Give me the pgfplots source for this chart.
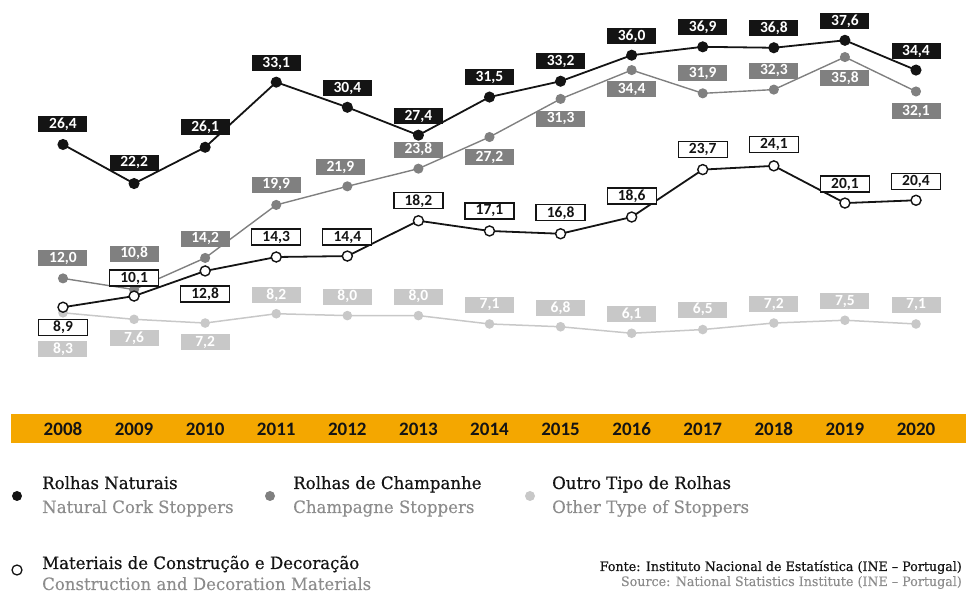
\documentclass[border=0pt]{standalone}
\usepackage{pgfplots}
\pgfplotsset{compat=1.18}
\usepackage{pgfplotstable}
\usepackage{fontspec}
\setmainfont{Carlito}
\newfontfamily\legfont[FakeStretch=0.975,FakeBold=0.15]{DejaVu Serif}
\newfontfamily\legfontb[FakeStretch=0.975,FakeBold=0.6]{DejaVu Serif}

\definecolor{ink}{HTML}{141414}
\definecolor{champ}{HTML}{808080}
\definecolor{outro}{HTML}{C8C8C8}
\definecolor{band}{HTML}{F4A700}
\definecolor{subgray}{HTML}{8C8C8C}

% year, value, label offset (px above the point), label x offset
\pgfplotstableread{
year val off xoff
2008 26.4 20 0
2009 22.2 21 0
2010 26.1 20 0
2011 33.1 19 0
2012 30.4 19 0
2013 27.4 19 0
2014 31.5 20 0
2015 33.2 20 0
2016 36.0 19 0
2017 36.9 20 0
2018 36.8 20 0
2019 37.6 19 0
2020 34.4 19 0
}\naturais

\pgfplotstableread{
year val off xoff
2008 12.0 20 0
2009 10.8 36 0
2010 14.2 19 0
2011 19.9 20 0
2012 21.9 19 -7
2013 23.8 19 0
2014 27.2 -20 0
2015 31.3 -20 0
2016 34.4 -19 0
2017 31.9 20 0
2018 32.3 19 0
2019 35.8 -21 0
2020 32.1 -20 0
}\champanhe

\pgfplotstableread{
year val off xoff
2008 8.9 -20 0
2009 10.1 18 0
2010 12.8 -23 0
2011 14.3 20 0
2012 14.4 19 0
2013 18.2 20 0
2014 17.1 20 0
2015 16.8 21 0
2016 18.6 21 0
2017 23.7 20 0
2018 24.1 21 0
2019 20.1 19 0
2020 20.4 19 0
}\materiais

\pgfplotstableread{
year val off xoff
2008 8.3 -36 0
2009 7.6 -19 0
2010 7.2 -19 0
2011 8.2 19 0
2012 8.0 19 0
2013 8.0 19 0
2014 7.1 19 0
2015 6.8 19 0
2016 6.1 19 0
2017 6.5 20 0
2018 7.2 19 0
2019 7.5 19 0
2020 7.1 19 0
}\outro

\pgfplotsset{
  lbl/.style={
    point meta=y,
    visualization depends on={\thisrow{off} \as \lboff},
    visualization depends on={\thisrow{xoff} \as \lbxoff},
    nodes near coords={\pgfmathprintnumber[fixed,fixed zerofill,precision=1,use comma,assume math mode=true]{\pgfplotspointmeta}},
    nodes near coords style={anchor=center, inner sep=0pt,
      minimum width=49pt, minimum height=16pt,
      yshift=\lboff pt, xshift=\lbxoff pt,
      font=\fontsize{15.5}{15.5}\selectfont\bfseries, #1}
  }
}

\begin{document}
\begin{tikzpicture}
\begin{scope}[shift={(-63pt,390pt)},x=1pt,y=-1pt]
  \path (0,0) rectangle (966,593);
  \fill[band] (11,414) rectangle (966,443);
\end{scope}

\begin{axis}[name=ax, at={(0,0)}, anchor=south west,
  scale only axis, width=853pt, height=372pt,
  xmin=2008, xmax=2020, ymin=0, ymax=40, clip=false,
  axis x line*=bottom, axis y line*=left, axis line style={draw=none},
  ytick=\empty, xtick={2008,2009,2010,2011,2012,2013,2014,2015,2016,2017,2018,2019,2020},
  xticklabels={2008,2009,2010,2011,2012,2013,2014,2015,2016,2017,2018,2019,2020},
  major tick length=0pt,
  xticklabel style={anchor=center, yshift=-39pt, text=ink,
    font=\fontsize{19}{19}\selectfont\bfseries}]

\addplot[outro, line width=1.5pt, mark=*, mark size=4pt,
  lbl={fill=outro, text=white}] table[x=year,y=val] {\outro};
\addplot[champ, line width=1.4pt, mark=*, mark size=4.3pt,
  lbl={fill=champ, text=white}] table[x=year,y=val] {\champanhe};
\addplot[ink, line width=1.8pt, mark=*, mark size=4.6pt,
  lbl={fill=ink, text=white}] table[x=year,y=val] {\naturais};
\addplot[ink, line width=1.8pt, mark=*, mark size=5pt,
  mark options={fill=white, draw=ink, line width=1.4pt},
  lbl={fill=white, draw=ink, line width=1.2pt, text=ink}] table[x=year,y=val] {\materiais};
\end{axis}

\begin{scope}[shift={(-63pt,390pt)},x=1pt,y=-1pt,
  tt/.style={anchor=base west, inner sep=0pt, text=ink, font=\legfontb\fontsize{17}{17}\selectfont},
  st/.style={anchor=base west, inner sep=0pt, text=subgray, font=\legfont\fontsize{17}{17}\selectfont}]
  \fill[ink] (17,496) circle (5pt);
  \node[tt] at (42,489) {Rolhas Naturais};
  \node[st] at (42,513) {Natural Cork Stoppers};
  \fill[champ] (270,496) circle (5pt);
  \node[tt] at (293,489) {Rolhas de Champanhe};
  \node[st] at (293,513) {Champagne Stoppers};
  \fill[outro] (530,496) circle (5pt);
  \node[tt] at (552,489) {Outro Tipo de Rolhas};
  \node[st] at (552,513) {Other Type of Stoppers};
  \draw[ink, fill=white, line width=1.3pt] (17,570) circle (5pt);
  \node[tt] at (42,569) {Materiais de Construção e Decoração};
  \node[st] at (42,590) {Construction and Decoration Materials};
  \node[anchor=base east, inner sep=0pt, text=ink, font=\legfontb\fontsize{13}{13}\selectfont] at (962,571) {Fonte: Instituto Nacional de Estatística (INE – Portugal)};
  \node[anchor=base east, inner sep=0pt, text=subgray, font=\legfont\fontsize{13}{13}\selectfont] at (962,586) {Source: National Statistics Institute (INE – Portugal)};
\end{scope}
\end{tikzpicture}
\end{document}
